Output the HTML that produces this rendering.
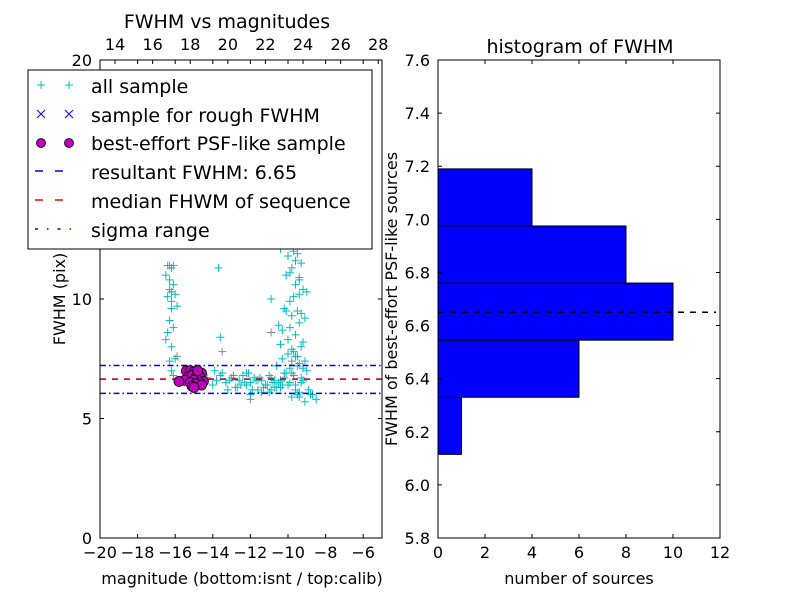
<!DOCTYPE html>
<html><head><meta charset="utf-8">
<style>
body{margin:0;background:#fff;}
svg{display:block;font-family:"DejaVu Sans","Liberation Sans",sans-serif;}
</style></head>
<body>
<svg id="c" width="800" height="600" viewBox="0 0 800 600"></svg>
<script>
// ---- data ----
const allX = [-16.4,-16.3,-16.2,-16.5,-16.1,-16.3,-16.2,-16.4,-16.0,-16.2,-16.3,-16.1,-16.4,-16.2,-16.0,-16.3,-16.2,-16.1,-16.5,-16.2,-15.9,-16.1,-16.3,
 -13.7,-13.6,
 -15.2,-14.8,-14.3,-14.0,-13.8,-13.5,-13.3,-13.0,-12.8,-12.6,-12.4,-12.2,-12.0,-11.8,-11.6,-11.4,-11.2,-11.0,-10.8,-10.6,-10.4,-10.2,-13.2,-12.9,-12.5,-12.1,-11.7,-11.3,-10.9,-10.5,-13.6,-13.1,-12.7,-12.3,-11.9,-11.5,-11.1,-10.7,-12.0,-11.4,-10.9,-10.3,-13.9,-12.2,
 -11.2,-10.8,-10.4,-10.0,-9.9,-9.7,-9.6,-9.8,-10.1,-9.5,-9.3,-9.4,-9.6,-9.2,-9.0,-9.7,-10.2,-9.9,-9.5,-9.1,-9.8,-9.4,-10.5,-10.3,-9.6,-9.2,-9.9,-10.0,-9.3,-9.7,-9.5,-9.8,-9.1,-10.6,-9.4,-9.0,-9.6,-9.2,-10.1,-9.7,-9.3,-9.5,-9.8,-10.4,-9.9,-9.6,-9.4,-9.2,-8.9,-8.7,-8.5,-8.8,-9.1,-9.6,-10.0,-9.4,-10.7,-11.0,-10.2,-9.8,-9.5,-9.3,-9.7,-10.3,-9.9,-9.4,
 -10.9,-10.1,-9.9,-9.4,-9.6,-9.8,-9.5,-9.3,-10.4,-10.0,-9.7];
const allY = [11.4,11.4,11.3,11.0,11.4,10.8,10.3,10.1,10.2,9.6,9.1,8.8,8.6,8.0,7.5,7.4,7.0,6.8,8.3,9.9,9.7,10.6,10.4,
 11.3,8.4,
 6.6,6.5,6.7,6.4,6.6,6.9,6.5,6.7,6.3,6.6,6.8,6.4,6.5,6.7,6.2,6.6,6.4,6.8,6.5,6.3,6.6,6.9,6.2,6.8,6.4,6.9,6.6,6.3,6.7,6.5,6.8,6.6,6.3,6.5,6.2,6.7,6.4,6.6,6.0,6.1,6.2,6.4,7.0,6.9,
 12.6,12.4,12.1,11.8,12.3,12.0,11.6,11.3,11.0,11.9,11.5,10.9,10.6,10.4,10.3,10.1,9.6,9.9,9.5,9.2,9.3,9.0,8.9,8.7,8.5,8.2,8.8,8.3,8.0,7.8,7.6,7.9,7.4,7.2,7.3,7.0,7.6,7.1,6.9,6.8,6.7,7.2,6.9,6.3,6.5,6.4,6.1,6.6,6.2,6.0,5.8,6.0,5.7,6.2,6.4,5.9,6.3,6.1,6.7,5.9,6.0,6.5,6.8,7.5,7.1,
 10.2,10.0,9.5,11.1,10.8,12.7,12.9,13.0,9.4,8.1,7.7];
const grayX = [-15.9,-13.5,-12.0,-10.9,-15.5,-14.9,-11.6,-9.8];
const grayY = [7.6,7.8,5.8,8.6,6.9,7.1,6.6,7.4];
const psfX = [-15.4,-15.2,-15.0,-14.8,-14.6,-15.3,-15.1,-14.9,-14.7,-15.0,-15.5,-14.5,-14.7,-15.2,-14.9,-14.6,-15.1,-15.8,-14.8,-15.0];
const psfY = [7.0,7.0,6.95,6.95,6.9,6.75,6.8,6.7,6.75,6.6,6.6,6.55,6.5,6.5,6.45,6.4,6.35,6.55,7.0,6.3];
const fwhm = 6.65, sigLo = 6.05, sigHi = 7.22;
const binEdges = [6.115,6.33,6.545,6.76,6.975,7.19];
const binCounts = [1,6,10,8,4];
const leftXTicks = [-20,-18,-16,-14,-12,-10,-8,-6];
const leftYTicks = [0,5,10,20];
const topTicks = [14,16,18,20,22,24,26,28];
const rightXTicks = [0,2,4,6,8,10,12];
const rightYTicks = [5.8,6.0,6.2,6.4,6.6,6.8,7.0,7.2,7.4,7.6];
// ---- helpers ----
const svg = document.getElementById('c');
const NS = 'http://www.w3.org/2000/svg';
function mk(tag, attrs, parent){const e=document.createElementNS(NS,tag);for(const k in attrs)e.setAttribute(k,attrs[k]);(parent||svg).appendChild(e);return e;}
const L={x0:100,x1:382,y0:60,y1:538};
const lx=v=>L.x0+(v+20)/15*(L.x1-L.x0);
const ly=v=>L.y1-v/20*(L.y1-L.y0);
const tx=v=>lx(v-33.2);
const R={x0:438,x1:720,y0:60,y1:538};
const rx=v=>R.x0+v/12*(R.x1-R.x0);
const ry=v=>R.y1-(v-5.8)/1.8*(R.y1-R.y0);
function txt(s,x,y,opts,name){const t=mk('text',Object.assign({x:x,y:y,'font-size':16,fill:'#000'},opts||{}));t.textContent=s;

return t;}
function plus(g,x,y,c,s){const p=mk('path',{d:`M${x-s},${y}H${x+s}M${x},${y-s}V${y+s}`,stroke:c,'stroke-width':1,fill:'none'},g);

}
// ---- left panel ----
const lg=mk('g',{});


mk('clipPath',{id:'lc'}).appendChild(Object.assign(document.createElementNS(NS,'rect'),{}));
document.querySelector('#lc rect').setAttribute('x',L.x0);document.querySelector('#lc rect').setAttribute('y',L.y0);
document.querySelector('#lc rect').setAttribute('width',L.x1-L.x0);document.querySelector('#lc rect').setAttribute('height',L.y1-L.y0);
const inner=mk('g',{'clip-path':'url(#lc)'},lg);
grayX.forEach((x,i)=>plus(inner,lx(x),ly(grayY[i]),'#888',4));
allX.forEach((x,i)=>plus(inner,lx(x),ly(allY[i]),'#00bfbf',4));
let l;
l=mk('line',{x1:L.x0,x2:L.x1,y1:ly(sigHi),y2:ly(sigHi),stroke:'#0000ff','stroke-width':1.5,'stroke-dasharray':'6,3,1.5,3'},inner);

l=mk('line',{x1:L.x0,x2:L.x1,y1:ly(sigLo),y2:ly(sigLo),stroke:'#0000ff','stroke-width':1.5,'stroke-dasharray':'6,3,1.5,3'},inner);

l=mk('line',{x1:L.x0,x2:L.x1,y1:ly(fwhm),y2:ly(fwhm),stroke:'#0000ff','stroke-width':1.5,'stroke-dasharray':'6,6'},inner);

l=mk('line',{x1:L.x0,x2:L.x1,y1:ly(fwhm),y2:ly(fwhm),stroke:'#ff0000','stroke-width':1.5,'stroke-dasharray':'6,6'},inner);

psfX.forEach((x,i)=>{const c=mk('circle',{cx:lx(x),cy:ly(psfY[i]),r:5,fill:'#bf00bf',stroke:'#000','stroke-width':0.8},inner);

});
const lf=mk('rect',{x:L.x0,y:L.y0,width:L.x1-L.x0,height:L.y1-L.y0,fill:'none',stroke:'#000'},lg);

leftXTicks.forEach(v=>{const x=lx(v);mk('path',{d:`M${x},${L.y1}v-4M${x},${L.y0}v4`,stroke:'#000'},lg);txt('\u2212'+Math.abs(v),x,558,{'text-anchor':'middle'},'x-tick-label');});
leftYTicks.forEach(v=>{const y=ly(v);mk('path',{d:`M${L.x0},${y}h4M${L.x1},${y}h-4`,stroke:'#000'},lg);txt(String(v),L.x0-8,y+6,{'text-anchor':'end'},'y-tick-label');});
topTicks.forEach(v=>{const x=tx(v);mk('path',{d:`M${x},${L.y0}v4`,stroke:'#000'},lg);txt(String(v),x,50,{'text-anchor':'middle'},'top-tick-label');});
txt('FWHM vs magnitudes',227,28,{'text-anchor':'middle','font-size':19},'left-title');
txt('magnitude (bottom:isnt / top:calib)',242,584,{'text-anchor':'middle'},'x-axis-title');
txt('FWHM (pix)',65,299,{'text-anchor':'middle',transform:'rotate(-90 65 299)'},'y-axis-title');
// legend
const leg=mk('g',{});


mk('rect',{x:28,y:70,width:344,height:179,fill:'#fff',stroke:'#000'},leg);
const rows=[87,116,144,173,202,231];
plus(leg,41,rows[0]-2,'#00bfbf',4);plus(leg,69,rows[0]-2,'#00bfbf',4);
[41,69].forEach(x=>mk('path',{d:`M${x-4},${rows[1]-6}l8,8M${x+4},${rows[1]-6}l-8,8`,stroke:'#0000ff'},leg));
[41,69].forEach(x=>mk('circle',{cx:x,cy:rows[2]-1,r:4.5,fill:'#bf00bf',stroke:'#000','stroke-width':0.8},leg));
mk('line',{x1:35,x2:75,y1:rows[3]-2,y2:rows[3]-2,stroke:'#0000ff','stroke-width':1.5,'stroke-dasharray':'8,12'},leg);
mk('line',{x1:35,x2:75,y1:rows[4]-2,y2:rows[4]-2,stroke:'#ff0000','stroke-width':1.5,'stroke-dasharray':'8,12'},leg);
mk('line',{x1:35,x2:75,y1:rows[5]-2,y2:rows[5]-2,stroke:'#0000ff','stroke-width':1.5,'stroke-dasharray':'3,9,1.5,9'},leg);
['all sample','sample for rough FWHM','best-effort PSF-like sample','resultant FWHM: 6.65','median FHWM of sequence','sigma range'].forEach((s,i)=>{
const t=txt(s,91,rows[i]+6,{'font-size':19},'legend-entry');leg.appendChild(t);});
// ---- right panel ----
const rg=mk('g',{});


binCounts.forEach((c,i)=>{const b=mk('rect',{x:rx(0),y:ry(binEdges[i+1]),width:rx(c)-rx(0),height:ry(binEdges[i])-ry(binEdges[i+1]),fill:'#0000ff',stroke:'#000'},rg);

});
l=mk('line',{x1:R.x0,x2:R.x1-4,y1:ry(fwhm),y2:ry(fwhm),stroke:'#000','stroke-width':1.5,'stroke-dasharray':'6,6'},rg);

const rf=mk('rect',{x:R.x0,y:R.y0,width:R.x1-R.x0,height:R.y1-R.y0,fill:'none',stroke:'#000'},rg);

rightXTicks.forEach(v=>{const x=rx(v);mk('path',{d:`M${x},${R.y1}v-4M${x},${R.y0}v4`,stroke:'#000'},rg);txt(String(v),x,558,{'text-anchor':'middle'},'x-tick-label');});
rightYTicks.forEach(v=>{const y=ry(v);mk('path',{d:`M${R.x0},${y}h4M${R.x1},${y}h-4`,stroke:'#000'},rg);txt(v.toFixed(1),R.x0-8,y+6,{'text-anchor':'end'},'y-tick-label');});
txt('histogram of FWHM',580,53,{'text-anchor':'middle','font-size':19},'right-title');
txt('number of sources',579,584,{'text-anchor':'middle'},'x-axis-title');
txt('FWHM of best-effort PSF-like sources',397,299,{'text-anchor':'middle',transform:'rotate(-90 397 299)'},'y-axis-title');
</script>
</body></html>
